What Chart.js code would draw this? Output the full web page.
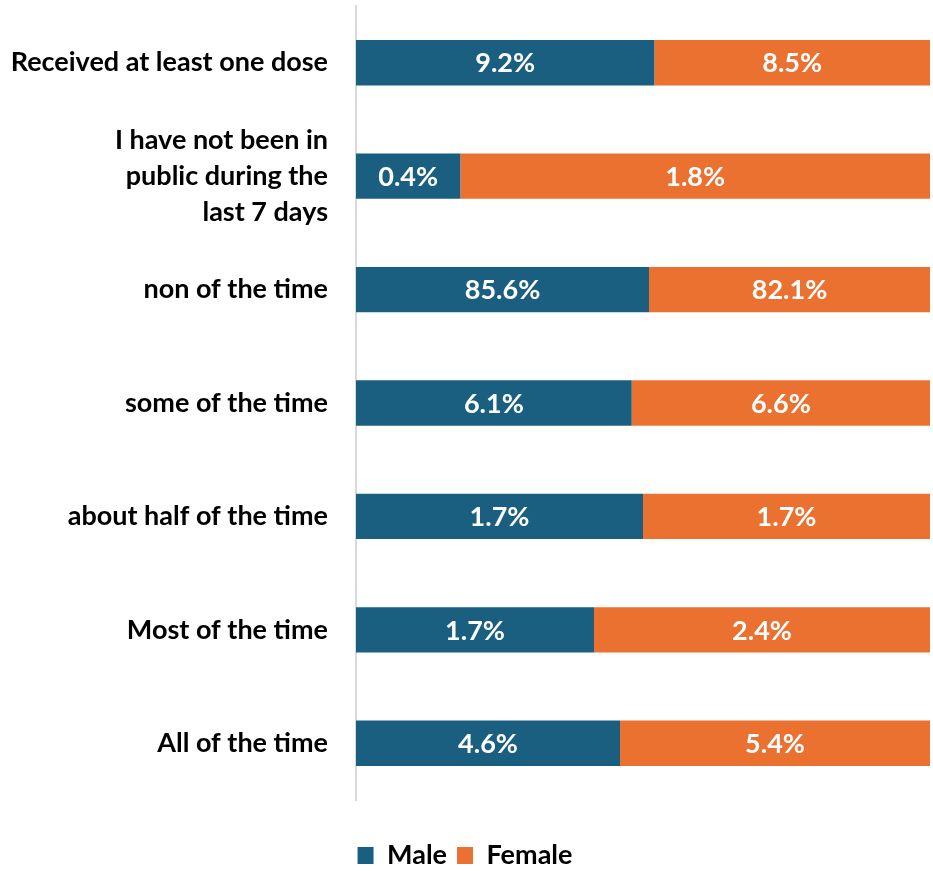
<!DOCTYPE html>
<html>
<head>
<meta charset="utf-8">
<script src="https://cdn.jsdelivr.net/npm/chart.js@4"></script>
<style>
  html, body { margin: 0; padding: 0; background: #ffffff; }
  #wrap { width: 933px; height: 871px; position: relative; }
</style>
</head>
<body>
<div id="wrap"><canvas id="mask-chart"></canvas></div>
<script>
const categories = [
    'Received at least one dose',
    ['I have not been in', 'public during the', 'last 7 days'],
    'non of the time',
    'some of the time',
    'about half of the time',
    'Most of the time',
    'All of the time'
];
const maleValues = [9.2, 0.4, 85.6, 6.1, 1.7, 1.7, 4.6];
const femaleValues = [8.5, 1.8, 82.1, 6.6, 1.7, 2.4, 5.4];

const MALE_COLOR = '#1b5f80';
const FEMALE_COLOR = '#eb7131';
const FONT = 'Lato, "DejaVu Sans", sans-serif';

// each row is drawn as a 100% stacked bar
function share(values, index) {
    const total = maleValues[index] + femaleValues[index];
    return values[index] / total * 100;
}
const maleShare = maleValues.map((v, i) => share(maleValues, i));
const femaleShare = femaleValues.map((v, i) => share(femaleValues, i));

// white value labels centred in each segment
const valueLabels = {
    id: 'valueLabels',
    afterDatasetsDraw(chart) {
        const ctx = chart.ctx;
        const sources = [maleValues, femaleValues];
        ctx.save();
        ctx.fillStyle = '#ffffff';
        ctx.font = 'bold 27px ' + FONT;
        ctx.textAlign = 'center';
        ctx.textBaseline = 'middle';
        chart.data.datasets.forEach((ds, di) => {
            chart.getDatasetMeta(di).data.forEach((bar, i) => {
                const p = bar.getProps(['x', 'y', 'base'], true);
                const cx = (p.x + p.base) / 2;
                ctx.fillText(sources[di][i].toFixed(1) + '%', cx, p.y + 1);
            });
        });
        ctx.restore();
    }
};

const ctx = document.getElementById('mask-chart').getContext('2d');
const chart = new Chart(ctx, {
    type: 'bar',
    data: {
        labels: categories,
        datasets: [{
            label: 'Male',
            data: maleShare,
            backgroundColor: MALE_COLOR,
            barPercentage: 0.4,
            categoryPercentage: 1
        }, {
            label: 'Female',
            data: femaleShare,
            backgroundColor: FEMALE_COLOR,
            barPercentage: 0.4,
            categoryPercentage: 1
        }]
    },
    options: {
        indexAxis: 'y',
        responsive: true,
        maintainAspectRatio: false,
        animation: false,
        layout: {
            padding: { top: 6, right: 3, bottom: -8, left: 0 }
        },
        plugins: {
            legend: {
                position: 'bottom',
                labels: {
                    color: '#000000',
                    font: { family: FONT, size: 27, weight: 'bold' },
                    boxWidth: 16,
                    boxHeight: 17,
                    padding: 10
                }
            },
            tooltip: { enabled: false }
        },
        scales: {
            x: {
                stacked: true,
                min: 0,
                max: 100,
                // kept only as empty space between the bars and the legend
                display: true,
                grid: { display: false, drawTicks: false },
                border: { display: false },
                ticks: { display: false },
                afterFit(scale) {
                    scale.height = 32;
                }
            },
            y: {
                stacked: true,
                grid: { display: false, drawTicks: false },
                border: { display: true, color: '#d9d9d9', width: 2 },
                ticks: {
                    color: '#000000',
                    font: { family: FONT, size: 27, weight: 'bold', lineHeight: 1.34 },
                    padding: 28
                },
                afterFit(scale) {
                    scale.width = 356;
                    scale.paddingTop = 0;
                    scale.paddingBottom = 0;
                }
            }
        }
    },
    plugins: [valueLabels]
});
</script>
</body>
</html>
